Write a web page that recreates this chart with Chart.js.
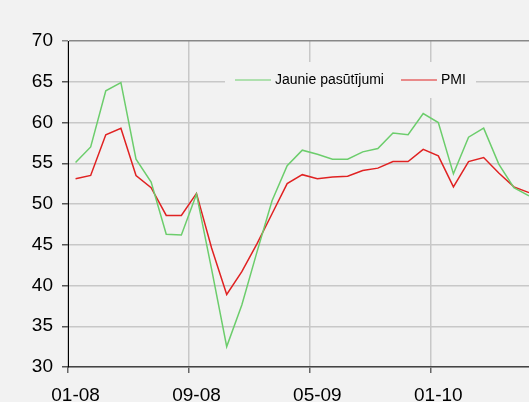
<!DOCTYPE html>
<html>
<head>
<meta charset="utf-8">
<script src="https://cdn.jsdelivr.net/npm/chart.js@4.4.1/dist/chart.umd.min.js"></script>
<style>
  html, body { margin: 0; padding: 0; overflow: hidden; background: #f2f2f2; }
  #wrap { position: absolute; left: 0; top: 0; width: 540px; height: 402px; }
</style>
</head>
<body>
<div id="wrap"><canvas id="chartPmi" width="540" height="402"></canvas></div>
<script>
// Mēneši (MM-GG)
const menesi = ['01-08','02-08','03-08','04-08','05-08','06-08','07-08','08-08',
  '09-08','10-08','11-08','12-08','01-09','02-09','03-09','04-09',
  '05-09','06-09','07-09','08-09','09-09','10-09','11-09','12-09',
  '01-10','02-10','03-10','04-10','05-10','06-10','07-10'];

const jauniePasutijumi = [55.1, 57.0, 63.9, 64.9, 55.5, 52.7, 46.3, 46.2,
  51.2, 42.0, 32.5, 37.6, 44.1, 50.4, 54.7, 56.6,
  56.1, 55.5, 55.5, 56.4, 56.8, 58.7, 58.5, 61.1,
  60.0, 53.7, 58.2, 59.3, 54.9, 52.0, 51.0];

const pmi = [53.1, 53.5, 58.5, 59.3, 53.5, 52.0, 48.6, 48.6,
  51.3, 44.6, 38.9, 41.7, 45.1, 48.8, 52.5, 53.6,
  53.1, 53.3, 53.4, 54.1, 54.4, 55.2, 55.2, 56.7,
  55.9, 52.1, 55.2, 55.7, 53.8, 52.1, 51.4];

const yTicks = [30, 35, 40, 45, 50, 55, 60, 65, 70];

const fonts = "'Liberation Sans', Arial, sans-serif";

// fons
const fonsPlugin = {
  id: 'fons',
  beforeDraw(chart) {
    const c = chart.ctx;
    c.save();
    c.fillStyle = '#f2f2f2';
    c.fillRect(0, 0, chart.width, chart.height);
    c.restore();
  }
};

// leģenda grafika iekšpusē
const legendaPlugin = {
  id: 'legendaIekša',
  beforeDatasetsDraw(chart) {
    const c = chart.ctx;
    const ds = chart.data.datasets;
    c.save();
    c.fillStyle = '#f2f2f2';
    c.fillRect(225, 62, 251, 36);
    c.lineWidth = 1.2;
    c.font = '14px ' + fonts;
    c.fillStyle = '#000';
    c.textBaseline = 'middle';
    let x = 235;
    ds.forEach(d => {
      c.strokeStyle = d.borderColor;
      c.beginPath();
      c.moveTo(x, 80);
      c.lineTo(x + 36, 80);
      c.stroke();
      c.fillText(d.label, x + 40, 80);
      x += 40 + c.measureText(d.label).width + 17;
    });
    c.restore();
  }
};

new Chart(document.getElementById('chartPmi').getContext('2d'), {
  type: 'line',
  data: {
    labels: menesi,
    datasets: [
      { label: 'Jaunie pasūtījumi', data: jauniePasutijumi, borderColor: '#6ccd6c', borderWidth: 1.5, pointRadius: 0, tension: 0 },
      { label: 'PMI', data: pmi, borderColor: '#e02222', borderWidth: 1.5, pointRadius: 0, tension: 0 }
    ]
  },
  options: {
    responsive: false,
    animation: false,
    layout: { padding: { top: 41, right: 0, bottom: 0, left: 0 } },
    plugins: { legend: { display: false }, tooltip: { enabled: false } },
    scales: {
      x: {
        offset: true,
        afterFit: s => { s.height = 35; },
        border: { color: '#444', width: 1.5 },
        grid: {
          offset: true,
          tickLength: 6,
          color: ctx => (ctx.index % 8 === 0 ? '#c8c8c8' : 'rgba(0,0,0,0)'),
          tickColor: ctx => (ctx.index % 8 === 0 ? '#666' : 'rgba(0,0,0,0)'),
          lineWidth: 1.5
        },
        ticks: {
          autoSkip: false,
          maxRotation: 0,
          padding: 11,
          color: '#000',
          font: { size: 19, family: fonts },
          callback: (v, i) => (i % 8 === 0 ? menesi[i] : '')
        }
      },
      y: {
        min: 30,
        max: 70,
        afterFit: s => { s.width = 68; },
        afterBuildTicks: s => { s.ticks = yTicks.map(v => ({ value: v })); },
        border: { color: '#000', width: 1 },
        grid: {
          tickLength: 6,
          color: ctx => (ctx.tick && ctx.tick.value === 70 ? '#888' : '#c8c8c8'),
          tickColor: ctx => (ctx.tick && ctx.tick.value === 70 ? '#888' : '#555'),
          lineWidth: 1.5
        },
        ticks: {
          padding: 9,
          color: '#000',
          font: { size: 19, family: fonts }
        }
      }
    }
  },
  plugins: [fonsPlugin, legendaPlugin]
});
</script>
</body>
</html>
